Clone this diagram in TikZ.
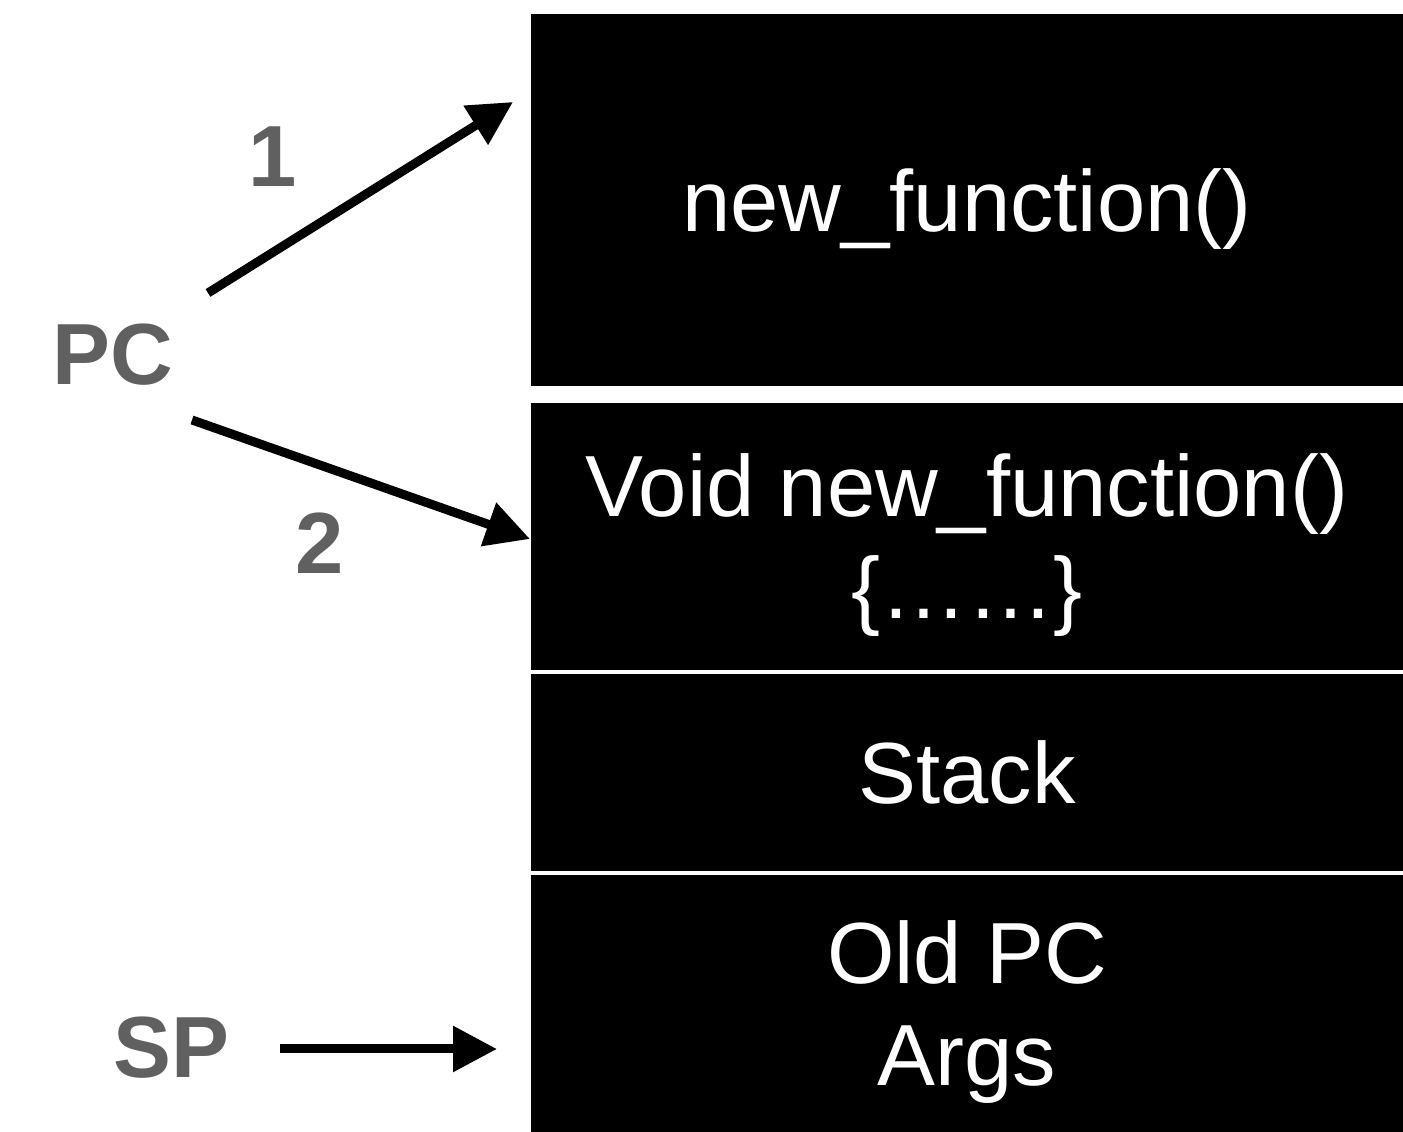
\documentclass[tikz,border=0pt]{standalone}
\usepackage{fontspec}
\setmainfont{Liberation Sans}
\usepackage{tikz}
\usetikzlibrary{positioning,arrows.meta}
\definecolor{labelgray}{RGB}{96,96,96}

\begin{document}
\begin{tikzpicture}[
        block/.style={fill=black, text=white, inner sep=0, outer sep=0,
            minimum width=8.72cm, align=center, text depth=0pt,
            font=\fontsize{24.7pt}{29pt}\selectfont},
        lbl/.style={text=labelgray, inner sep=0,
            font=\fontsize{24.7pt}{29pt}\selectfont\bfseries},
        ptr/.style={line width=0.09cm, -{Triangle[length=0.44cm,width=0.44cm]}}
    ]
        \useasboundingbox (0,0) rectangle (14.03,11.32);
        % --- Memory ---
        \node[block, minimum height=3.72cm] (func) at (9.67,9.32) {new\_function()};
        \node[block, minimum height=2.67cm, below=0.17cm of func] (body) {Void new\_function()\\\{\dots\dots\}};
        \node[block, minimum height=1.97cm, below=0.04cm of body] (stack) {Stack};
        \node[block, minimum height=2.57cm, below=0.04cm of stack] (frame) {Old PC\\Args};
        % --- Registers ---
        \node[lbl] (pc) at (1.125,7.77) {PC};
        \node[lbl] (sp) at (1.715,0.845) {SP};
        \node[lbl] (one) at (2.73,9.75) {1};
        \node[lbl] (two) at (3.20,5.89) {2};
        % --- Pointers ---
        \coordinate (pcA) at (2.08,8.39);
        \coordinate (tipA) at (5.13,10.30);
        \coordinate (pcB) at (1.92,7.12);
        \coordinate (tipB) at (5.30,5.93);
        \coordinate (spA) at (2.80,0.83);
        \coordinate (tipS) at (4.97,0.83);
        \draw[ptr] (pcA) -- (tipA);
        \draw[ptr] (pcB) -- (tipB);
        \draw[ptr] (spA) -- (tipS);
    \end{tikzpicture}
\end{document}
